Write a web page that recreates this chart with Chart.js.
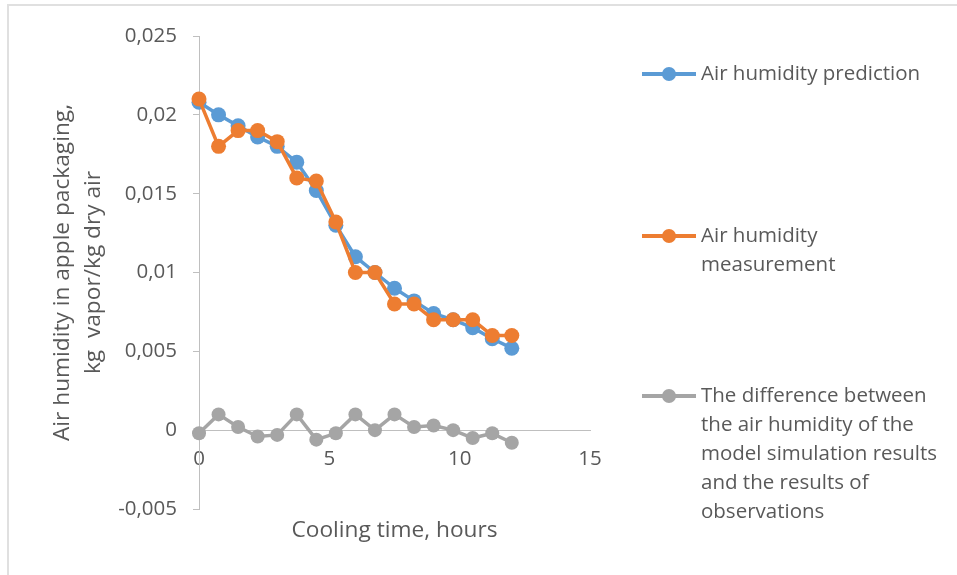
<!DOCTYPE html>
<html>
<head>
<meta charset="utf-8">
<script src="https://cdn.jsdelivr.net/npm/chart.js@4.4.0/dist/chart.umd.min.js"></script>
<style>
  html, body { margin: 0; padding: 0; background: #fff; }
  #wrap { position: relative; width: 957px; height: 575px; overflow: hidden; font-family: "Open Sans", sans-serif; }
  #frame { position: absolute; left: 7px; top: 4px; width: 1000px; height: 700px; border-left: 2px solid #e0e0e0; border-top: 2px solid #e0e0e0; }
  canvas { position: absolute; left: 0; top: 0; }
  .item { position: absolute; left: 642px; color: #595959; font-size: 20.5px; line-height: 29px; }
  .swatch { position: absolute; left: 0; top: 14.25px; width: 54px; height: 3.5px; }
  .dot { position: absolute; left: 20px; top: 9px; width: 14px; height: 14px; border-radius: 50%; }
  .txt { position: absolute; left: 59px; top: 0; white-space: nowrap; }
</style>
</head>
<body>
<div id="wrap">
  <div id="frame"></div>
  <canvas id="chart" width="957" height="575"></canvas>
  <div id="legend"></div>
</div>
<script>
// cooling time, hours
const hours = [0, 0.75, 1.5, 2.25, 3, 3.75, 4.5, 5.25, 6, 6.75, 7.5, 8.25, 9, 9.75, 10.5, 11.25, 12];
const predicted = [0.0208, 0.0200, 0.0193, 0.0186, 0.0180, 0.0170, 0.0152, 0.0130, 0.0110, 0.0100, 0.0090, 0.0082, 0.0074, 0.0070, 0.0065, 0.0058, 0.0052];
const measured = [0.0210, 0.0180, 0.0190, 0.0190, 0.0183, 0.0160, 0.0158, 0.0132, 0.0100, 0.0100, 0.0080, 0.0080, 0.0070, 0.0070, 0.0070, 0.0060, 0.0060];
const difference = [-0.0002, 0.0010, 0.0002, -0.0004, -0.0003, 0.0010, -0.0006, -0.0002, 0.0010, 0.0000, 0.0010, 0.0002, 0.0003, 0.0000, -0.0005, -0.0002, -0.0008];

const seriesNames = [
  ['Air humidity prediction'],
  ['Air humidity', 'measurement'],
  ['The difference between', 'the air humidity of the', 'model simulation results', 'and the results of', 'observations']
];
const seriesColors = ['#5B9BD5', '#ED7D31', '#A5A5A5'];
const yTitle = ['Air humidity in apple packaging,', 'kg  vapor/kg dry air'];
const xTitle = 'Cooling time, hours';

Chart.defaults.font.family = '"Open Sans", sans-serif';
Chart.defaults.color = '#595959';

function pts(ys) {
  return hours.map((h, i) => ({ x: h, y: ys[i] }));
}

function series(i, ys, r, order) {
  return {
    label: seriesNames[i].join(' '),
    data: pts(ys),
    borderColor: seriesColors[i],
    backgroundColor: seriesColors[i],
    borderWidth: 3.5,
    pointRadius: r,
    pointBorderWidth: 0,
    pointBackgroundColor: seriesColors[i],
    tension: 0,
    clip: false,
    order: order
  };
}

const chart = new Chart(document.getElementById('chart').getContext('2d'), {
  type: 'line',
  data: {
    datasets: [
      series(0, predicted, 7.5, 2),
      series(1, measured, 7.5, 1),
      series(2, difference, 7, 0)
    ]
  },
  options: {
    responsive: false,
    animation: false,
    layout: { padding: { left: 9, top: 36, right: 367, bottom: 26 } },
    plugins: { legend: { display: false }, tooltip: { enabled: false } },
    scales: {
      x: {
        type: 'linear',
        position: { y: 0 },
        min: 0,
        max: 15,
        ticks: { stepSize: 5, padding: 17, font: { size: 20.5 } },
        grid: { drawOnChartArea: false, drawTicks: false },
        border: { color: '#bfbfbf', width: 1 }
      },
      y: {
        type: 'linear',
        min: -0.005,
        max: 0.025,
        ticks: {
          stepSize: 0.005,
          padding: 16,
          font: { size: 20.5 },
          callback: v => (Math.round(v * 10000) / 10000).toString().replace('.', ',')
        },
        grid: { drawOnChartArea: false, tickLength: 6, color: '#bfbfbf' },
        border: { color: '#bfbfbf', width: 1 },
        title: {
          display: true,
          text: yTitle,
          font: { size: 22.7, lineHeight: 1.366 },
          padding: { top: 38.5, bottom: 0 }
        },
        afterFit: s => { s.width = 190; }
      },
      x2: {
        type: 'linear',
        position: 'bottom',
        min: 0,
        max: 15,
        ticks: { display: false },
        grid: { display: false },
        border: { display: false },
        title: {
          display: true,
          text: xTitle,
          font: { size: 22.7, lineHeight: 1.2 },
          padding: { top: 0, bottom: 5 }
        },
        afterFit: s => { s.height = 40; }
      }
    }
  }
});

// legend on the right, built from the series names/colours
const legendTops = [58, 220, 380];
const legend = document.getElementById('legend');
seriesNames.forEach((lines, i) => {
  const item = document.createElement('div');
  item.className = 'item';
  item.style.top = legendTops[i] + 'px';
  item.innerHTML =
    '<div class="swatch" style="background:' + seriesColors[i] + '"></div>' +
    '<div class="dot" style="background:' + seriesColors[i] + '"></div>' +
    '<div class="txt">' + lines.join('<br>') + '</div>';
  legend.appendChild(item);
});
</script>
</body>
</html>
